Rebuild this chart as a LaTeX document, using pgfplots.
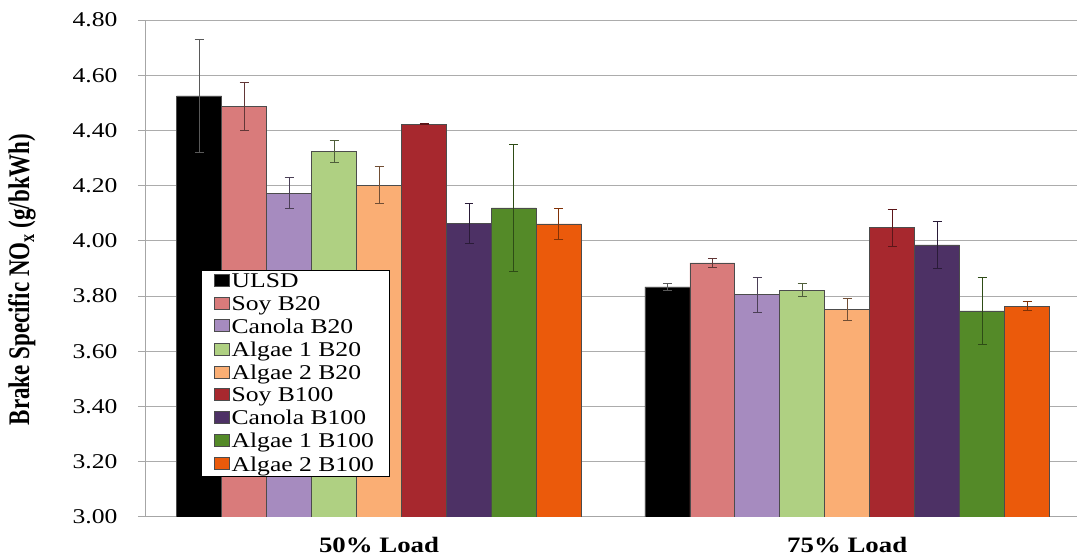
\documentclass[border=0pt]{standalone}
\usepackage{fontspec}
\setmainfont{Liberation Serif}[FakeStretch=1.22]
\newfontfamily\ylfont{Liberation Serif}
\usepackage{pgfplots}
\pgfplotsset{compat=1.18}
\usepackage{pgfplotstable}

\definecolor{cUL}{HTML}{000000}
\definecolor{cSoyA}{HTML}{D97B7B}
\definecolor{cCanA}{HTML}{A68BBF}
\definecolor{cAlgA}{HTML}{AFD082}
\definecolor{cAlgB}{HTML}{FAAE74}
\definecolor{cSoyC}{HTML}{A7282E}
\definecolor{cCanC}{HTML}{4D3165}
\definecolor{cAlgC}{HTML}{548A28}
\definecolor{cAlgD}{HTML}{EB5A0B}

% x=0: 50% load, x=1: 75% load; each series has value and +/- error
\pgfplotstableread{
x ulsd ulsdE soyA soyAE canA canAE algA algAE algB algBE soyC soyCE canC canCE algC algCE algD algDE
0 4.525 0.205 4.487 0.087 4.173 0.055 4.324 0.040 4.202 0.068 4.422 0.002 4.062 0.073 4.119 0.230 4.061 0.056
1 3.833 0.013 3.920 0.016 3.805 0.063 3.821 0.024 3.751 0.039 4.048 0.067 3.985 0.085 3.746 0.122 3.763 0.017
}\datatable

\pgfplotsset{
  nbar/.style 2 args={fill=#1, draw=gray!60!black, line width=0.5pt,
    error bars/.cd, y dir=both, y explicit,
    error bar style={draw=#2, line width=1pt},
    error mark options={rotate=90, mark size=4.5pt, draw=#2, line width=1pt}},
}

\begin{document}
\begin{tikzpicture}
\begin{axis}[
    name=main,
    width=932pt, height=497pt, scale only axis,
    xmin=-0.5, xmax=1.49,
    ymin=3, ymax=4.8,
    ybar=0pt, bar width=45pt,
    axis lines*=left,
    axis line style={gray!70, line width=0.8pt},
    ymajorgrids=true,
    grid style={gray!65, line width=0.8pt},
    ytick={3,3.2,3.4,3.6,3.8,4,4.2,4.4,4.6,4.8},
    /pgf/number format/assume math mode=true,
    yticklabel style={font=\fontsize{21}{24}\selectfont, xshift=-17pt,
        /pgf/number format/.cd, fixed, fixed zerofill, precision=2},
    tick align=outside,
    major tick length=7pt,
    ytick style={gray!70, line width=0.8pt},
    xtick={0,1},
    xticklabels={50\% Load, 75\% Load},
    xtick style={draw=none},
    xticklabel style={font=\bfseries\fontsize{22}{24}\selectfont, yshift=-10pt},
    ylabel={\scalebox{1}[1.3]{\ylfont\bfseries\fontsize{23}{26}\selectfont Brake Specific NO\textsubscript{x} (g/bkWh)}},
    ylabel shift=30pt,
    ylabel style={xshift=-11pt},
    legend style={at={(rel axis cs:0.060,0.0805)}, anchor=south west,
        draw=black, line width=0.6pt, fill=white,
        font=\fontsize{21}{23}\selectfont, row sep=6pt,
        nodes={inner ysep=0.5pt},
        inner xsep=13pt, inner ysep=3.5pt},
    legend cell align=left,
    legend image code/.code={\fill[#1] (0pt,-5pt) rectangle (15pt,7pt);},
]
\addplot[nbar={cUL}{gray!70!black}] table[x=x, y=ulsd, y error=ulsdE]{\datatable};
\addplot[nbar={cSoyA}{cSoyA!45!black}] table[x=x, y=soyA, y error=soyAE]{\datatable};
\addplot[nbar={cCanA}{cCanA!45!black}] table[x=x, y=canA, y error=canAE]{\datatable};
\addplot[nbar={cAlgA}{cAlgA!45!black}] table[x=x, y=algA, y error=algAE]{\datatable};
\addplot[nbar={cAlgB}{cAlgB!45!black}] table[x=x, y=algB, y error=algBE]{\datatable};
\addplot[nbar={cSoyC}{cSoyC!55!black}] table[x=x, y=soyC, y error=soyCE]{\datatable};
\addplot[nbar={cCanC}{cCanC!55!black}] table[x=x, y=canC, y error=canCE]{\datatable};
\addplot[nbar={cAlgC}{cAlgC!55!black}] table[x=x, y=algC, y error=algCE]{\datatable};
\addplot[nbar={cAlgD}{cAlgD!55!black}] table[x=x, y=algD, y error=algDE]{\datatable};
\legend{ULSD, Soy B20, Canola B20, Algae 1 B20, Algae 2 B20, Soy B100, Canola B100, Algae 1 B100, Algae 2 B100}
\end{axis}
\path (main.south west) ++(-145pt,-42pt) (main.north east) ++(0pt,20pt);
\end{tikzpicture}
\end{document}
